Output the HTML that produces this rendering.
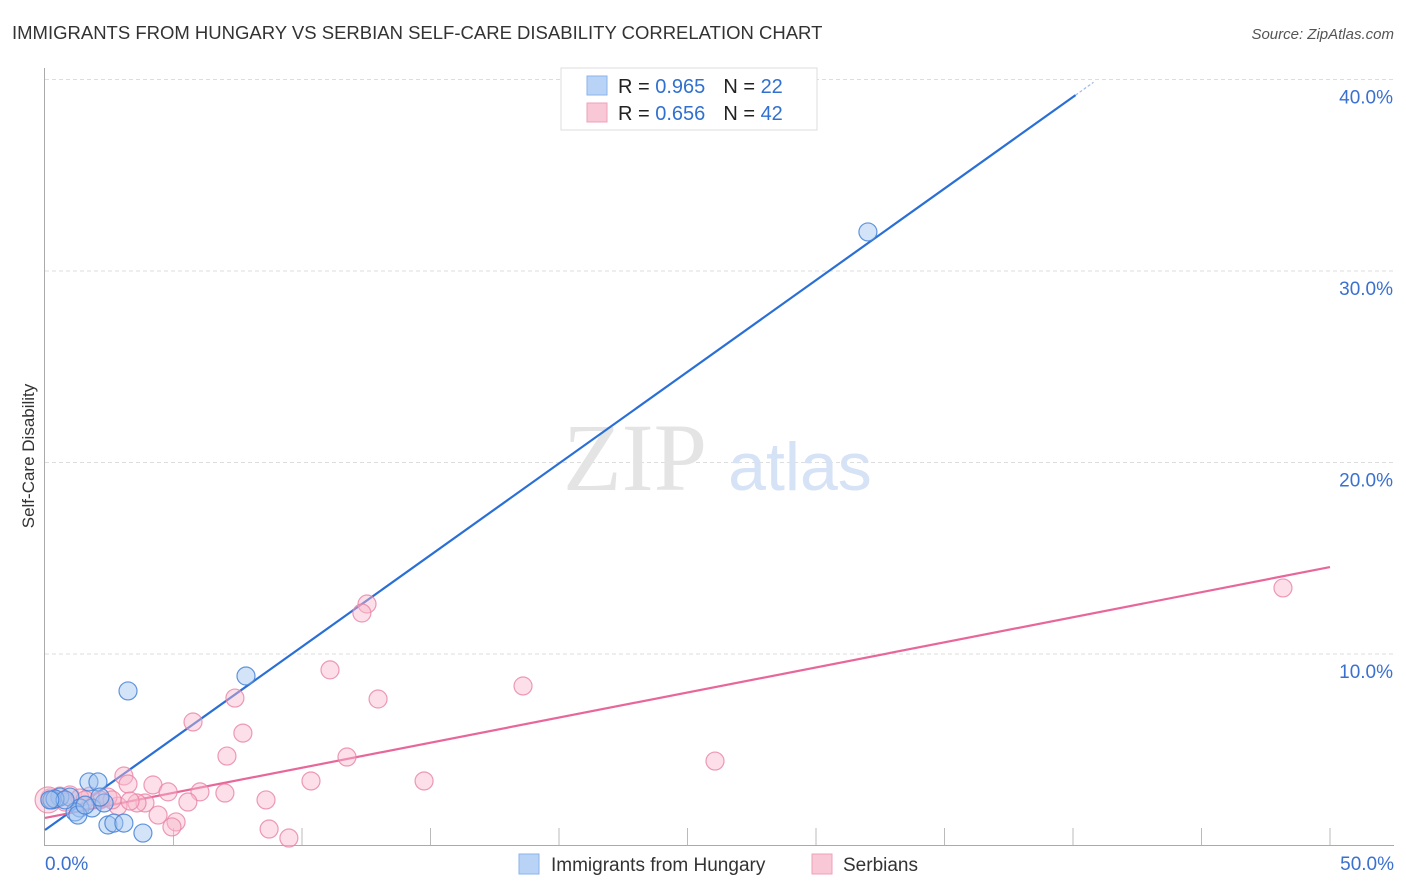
<!DOCTYPE html>
<html><head><meta charset="utf-8"><style>
body{margin:0;background:#fff;font-family:"Liberation Sans",sans-serif;}
svg{display:block}
</style></head><body>
<svg id="chart" width="1406" height="892">
<text x="12" y="39" font-size="18.5" fill="#333">IMMIGRANTS FROM HUNGARY VS SERBIAN SELF-CARE DISABILITY CORRELATION CHART</text>
<text x="1394" y="39" font-size="15" fill="#555" font-style="italic" text-anchor="end">Source: ZipAtlas.com</text>
<text x="34" y="456" font-size="17" fill="#333" transform="rotate(-90 34 456)" text-anchor="middle">Self-Care Disability</text>
<g id="grid"></g>
<text x="635" y="490" font-size="96" fill="#e4e4e4" font-family="Liberation Serif,serif" text-anchor="middle">ZIP</text>
<text x="800" y="490" font-size="68" fill="#d6e2f5" text-anchor="middle">atlas</text>
<g id="lines"></g>
<g id="points"></g>
<g>
<rect x="561" y="68" width="256" height="62" fill="#fff" stroke="#ddd"/>
<rect x="587" y="76" width="20" height="19" fill="#b8d3f5" stroke="#8ab4ea"/>
<rect x="587" y="103" width="20" height="19" fill="#f8c8d6" stroke="#eea0ba"/>
<text x="618" y="93" font-size="20" fill="#222">R = <tspan fill="#3070d0">0.965</tspan><tspan dx="18">N = </tspan><tspan fill="#3070d0">22</tspan></text>
<text x="618" y="120" font-size="20" fill="#222">R = <tspan fill="#3070d0">0.656</tspan><tspan dx="18">N = </tspan><tspan fill="#3070d0">42</tspan></text>
</g>
<g>
<rect x="519" y="854" width="20" height="20" fill="#b8d3f5" stroke="#8ab4ea"/>
<text x="551" y="871" font-size="19" fill="#333">Immigrants from Hungary</text>
<rect x="812" y="854" width="20" height="20" fill="#f8c8d6" stroke="#eea0ba"/>
<text x="843" y="871" font-size="19" fill="#333">Serbians</text>
</g>
</svg>
<script>
const yTicks=[10,20,30,40];
const yTickLabels=["10.0%","20.0%","30.0%","40.0%"];
const xTickLabels=["0.0%","50.0%"];
const hunX=[32.02,7.82,3.23,1.71,2.06,0.58,0.97,0.27,1.36,1.83,2.30,1.17,1.28,2.45,2.68,3.07,3.81,0.39,0.78,2.14,0.19,1.56];
const hunY=[32.04,8.85,8.07,3.32,3.32,2.53,2.53,2.38,1.96,1.96,2.22,1.75,1.59,1.07,1.17,1.17,0.65,2.43,2.38,2.53,2.38,2.11];
const serX=[48.17,12.53,12.33,11.09,18.60,12.96,7.39,5.76,7.70,7.08,11.75,26.07,3.07,4.20,3.23,4.79,10.35,14.75,6.03,7.00,8.60,5.56,3.89,3.58,2.84,4.40,5.10,4.94,8.72,9.49,2.45,2.14,1.75,0.97,0.58,0.19,0.12,1.36,2.61,3.31,1.56,0.78];
const serY=[13.45,12.61,12.14,9.17,8.33,7.65,7.70,6.45,5.87,4.67,4.62,4.41,3.63,3.16,3.21,2.80,3.37,3.37,2.80,2.74,2.38,2.27,2.22,2.22,2.06,1.59,1.23,0.97,0.86,0.39,2.53,2.38,2.58,2.64,2.58,2.48,2.38,2.48,2.38,2.32,2.38,2.27];
const hunTrend=[0.81,0.957];
const serTrend=[1.44,0.262];
const X=v=>45+v*25.7, Y=v=>845.5-v*19.15;
const NS="http://www.w3.org/2000/svg";
function mk(t,a,p){const e=document.createElementNS(NS,t);for(const k in a)e.setAttribute(k,a[k]);p.appendChild(e);return e;}
const grid=document.getElementById('grid');
yTicks.forEach((t,i)=>{
 const l=mk('line',{x1:45,x2:1394,y1:Y(t),y2:Y(t),stroke:'#ddd','stroke-dasharray':'4,3'},grid);
 
 
 const tx=mk('text',{x:1393,y:Y(t)+24,'font-size':19,fill:'#3a70d0','text-anchor':'end'},grid);
 tx.textContent=yTickLabels[i];
 
 
});
const ax=mk('path',{d:'M44.5,68V845.5H1394',stroke:'#aaa',fill:'none'},grid);


for(let i=1;i<=10;i++){
 const tk=mk('line',{x1:X(i*5),x2:X(i*5),y1:828,y2:845,stroke:'#bbb'},grid);
 
 
}
[[0,'start',45],[50,'end',1394]].forEach((d,i)=>{
 const tx=mk('text',{x:d[2],y:870,'font-size':19,fill:'#3a70d0','text-anchor':d[1]},grid);
 tx.textContent=xTickLabels[i];
 
 
});
const lines=document.getElementById('lines');
const bl=mk('line',{x1:X(0),y1:Y(hunTrend[0]),x2:X(40.1),y2:Y(hunTrend[0]+hunTrend[1]*40.1),stroke:'#2a6fd6','stroke-width':2.2},lines);


const bd=mk('line',{x1:X(40.1),y1:Y(hunTrend[0]+hunTrend[1]*40.1),x2:X(40.8),y2:Y(hunTrend[0]+hunTrend[1]*40.8),stroke:'#9bbbe8','stroke-width':1.2,'stroke-dasharray':'3,2'},lines);


const pl=mk('line',{x1:X(0),y1:Y(serTrend[0]),x2:X(50),y2:Y(serTrend[0]+serTrend[1]*50),stroke:'#e8679a','stroke-width':2.2},lines);


const pts=document.getElementById('points');
serX.forEach((x,i)=>{
 const c=mk('circle',{cx:X(x),cy:Y(serY[i]),r:(i==36?13:9),fill:'rgba(248,185,205,0.45)',stroke:'rgba(232,130,165,0.8)','stroke-width':1.2},pts);
 
 
});
hunX.forEach((x,i)=>{
 const c=mk('circle',{cx:X(x),cy:Y(hunY[i]),r:9,fill:'rgba(160,196,240,0.45)',stroke:'rgba(70,130,215,0.85)','stroke-width':1.2},pts);
 
 
});
</script>
</body></html>
